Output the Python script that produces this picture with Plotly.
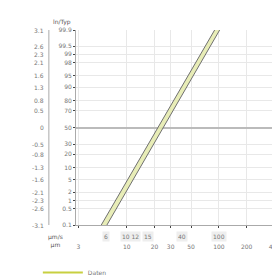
import math
import plotly.graph_objects as go
from statistics import NormalDist

nd = NormalDist()

# Data
prob_pct = [0.1, 99.9]
line_a = [5.3, 90.0]
line_b = [6.1, 102.0]
y_ticks_pct = [0.1, 0.5, 1, 2, 5, 10, 20, 30, 50, 70, 80, 90, 95, 98, 99, 99.5, 99.9]
y_ticks_left = ["-3.1", "-2.6", "-2.3", "-2.1", "-1.6", "-1.3", "-0.8", "-0.5", "0", "0.5", "0.8", "1.3", "1.6", "2.1", "2.3", "2.6", "3.1"]
x_ticks = [3, 10, 20, 30, 50, 100, 200, 400]
x_labels = ["3", "10", "20", "30", "50", "100", "200", "400"]
x_ticks_top = [6, 11, 17, 40, 100]
x_labels_top = ["6", "10 12", "15", "40", "100"]

def z(p):
    return nd.inv_cdf(p / 100.0)

ya = [z(p) for p in prob_pct]

fig = go.Figure()
fig.add_trace(go.Scatter(x=line_a, y=ya, mode="lines",
                         line=dict(color="#707070", width=1), showlegend=False))
fig.add_trace(go.Scatter(x=line_b, y=ya, mode="lines", fill="tonextx",
                         fillcolor="rgba(228,234,170,0.85)",
                         line=dict(color="#707070", width=1), showlegend=False))
fig.add_trace(go.Scatter(x=[None], y=[None], mode="lines", name="Daten",
                         line=dict(color="#c8d040", width=2)))

grid_y = [z(p) for p in y_ticks_pct]
fig.update_layout(
    width=280, height=279,
    margin=dict(l=68, r=0, t=22, b=44),
    paper_bgcolor="white", plot_bgcolor="white",
    font=dict(family="DejaVu Sans", size=6, color="#777777"),
    xaxis=dict(type="log", range=[0.45, 2.75], tickvals=x_ticks, ticktext=x_labels,
               tickangle=0,
               showgrid=True, gridcolor="#e8e8e8", gridwidth=1,
               showline=True, linecolor="#aaaaaa", ticks="outside", ticklen=2,
               tickfont=dict(size=6), ticklabelstandoff=14),
    yaxis=dict(range=[z(0.1), z(99.9)], tickvals=grid_y,
               ticktext=[str(p) for p in y_ticks_pct],
               showgrid=True, gridcolor="#e8e8e8", gridwidth=1,
               zeroline=True, zerolinecolor="#bbbbbb", zerolinewidth=1.5,
               showline=True, linecolor="#aaaaaa", ticks="outside", ticklen=2,
               tickfont=dict(size=6)),
    legend=dict(orientation="h", x=-0.18, y=-0.17, xanchor="left", yanchor="top",
                font=dict(size=6), itemwidth=40),
)

# secondary left axis line
fig.add_shape(type="line", xref="paper", yref="paper", x0=-0.128, x1=-0.128, y0=0, y1=1,
              line=dict(color="#aaaaaa", width=1))

for yv, lab in zip(grid_y, y_ticks_left):
    fig.add_annotation(x=-0.14, y=yv, xref="paper", yref="y", text=lab,
                       showarrow=False, xanchor="right", font=dict(size=6, color="#777777"))

for xv, lab in zip(x_ticks_top, x_labels_top):
    fig.add_annotation(x=math.log10(xv), y=-0.03, xref="x", yref="paper", text=lab,
                       showarrow=False, yanchor="top", bgcolor="#eeeeee",
                       font=dict(size=6, color="#777777"))

fig.add_annotation(x=-0.12, y=1.07, xref="paper", yref="paper", text="ln/Typ",
                   showarrow=False, font=dict(size=6, color="#555555"))
fig.add_annotation(x=-0.05, y=-0.03, xref="paper", yref="paper", text="μm/s<br>μm",
                   showarrow=False, xanchor="right", yanchor="top",
                   font=dict(size=6, color="#555555"))

fig.write_html("out.html")
